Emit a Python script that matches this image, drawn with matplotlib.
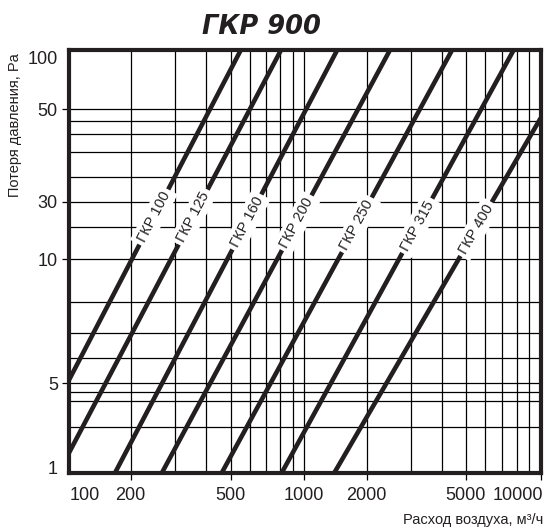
import numpy as np
import matplotlib
matplotlib.use('Agg')
import matplotlib.pyplot as plt
import matplotlib.transforms as mtransforms

################################################################
# data

flow_ticks = [100, 200, 500, 1000, 2000, 5000, 10000]
flow_grid = [200, 300, 400, 500, 600, 700, 800, 900, 1000,
             2000, 3000, 4000, 5000, 6000, 7000, 8000, 9000]
dp_ticks = [1, 5, 10, 30, 50, 100]
dp_grid = [2, 3, 4, 5, 6, 7, 8, 10, 20, 30, 34, 38, 42, 46, 50]

names = ['ГКР 100', 'ГКР 125', 'ГКР 160', 'ГКР 200', 'ГКР 250', 'ГКР 315', 'ГКР 400']
# air flow (m3/h) of every duct size at two pressure losses
dp_low = 5
dp_high = 50
flow_low = [76.6, 137, 267, 415, 730, 1348, 2404]
flow_high = [414, 600, 1025, 1820, 3275, 5776, 10500]
# pressure loss where the name is written on the line
label_dp = [23.5, 23.5, 21.7, 21.4, 20.7, 20.4, 19.1]

################################################################
# layout: the printed nomogram grid is not evenly spaced, so the axes use
# a piecewise log scale pinned to where the labelled values sit (pixels)

W, H = 558, 531
x_knot_px = [85, 130.7, 230.7, 304, 366.7, 465.7, 540.7]
y_knot_vals = [1, 2, 3, 4, 5, 6, 7, 8, 10, 20, 30, 34, 38, 42, 46, 50, 100]
y_knot_px = [468, 427, 401, 392, 383, 358, 333, 302, 259, 227, 202, 177, 152, 134, 121, 109, 58]
LEFT, RIGHT, TOP, BOTTOM = 69, 540.7, 50, 473

INK = '#231f20'


def piecewise(xk, yk):
  xk = np.asarray(xk, float)
  yk = np.asarray(yk, float)
  lo = (yk[1] - yk[0]) / (xk[1] - xk[0])
  hi = (yk[-1] - yk[-2]) / (xk[-1] - xk[-2])
  def f(x):
    x = np.asarray(x, float)
    y = np.interp(x, xk, yk)
    y = np.where(x < xk[0], yk[0] + (x - xk[0]) * lo, y)
    y = np.where(x > xk[-1], yk[-1] + (x - xk[-1]) * hi, y)
    return y
  return f


def safe_log(v):
  with np.errstate(divide='ignore', invalid='ignore'):
    return np.log10(np.maximum(np.asarray(v, float), 1e-12))


x_logs = np.log10(flow_ticks)
fx = piecewise(x_logs, x_knot_px)
fx_inv = piecewise(x_knot_px, x_logs)
y_logs = np.log10(y_knot_vals)
y_h = H - np.asarray(y_knot_px, float)
fy = piecewise(y_logs, y_h)
fy_inv = piecewise(y_h, y_logs)

fwd_x = lambda v: fx(safe_log(v))
inv_x = lambda p: 10 ** fx_inv(p)
fwd_y = lambda v: fy(safe_log(v))
inv_y = lambda p: 10 ** fy_inv(p)

plt.rcParams['font.family'] = ['Liberation Sans', 'DejaVu Sans']

fig = plt.figure(figsize=(W / 100, H / 100), dpi=100)
ax = fig.add_axes([LEFT / W, (H - BOTTOM) / H, (RIGHT - LEFT) / W, (BOTTOM - TOP) / H])
ax.set_xscale('function', functions=(fwd_x, inv_x))
ax.set_yscale('function', functions=(fwd_y, inv_y))
ax.set_xlim(float(inv_x(LEFT)), float(inv_x(RIGHT)))
ax.set_ylim(float(inv_y(H - BOTTOM)), float(inv_y(H - TOP)))

for q in flow_grid:
  ax.axvline(q, color='black', lw=0.9, zorder=1)
for p in dp_grid:
  ax.axhline(p, color='black', lw=0.9, zorder=1)

for i, name in enumerate(names):
  p1 = (flow_low[i], dp_low)
  p2 = (flow_high[i], dp_high)
  ax.axline(p1, p2, color=INK, lw=3.3, solid_capstyle='butt', zorder=2)
  # place the name on the line, turned along it
  (sx1, sy1), (sx2, sy2) = ax.transScale.transform([p1, p2])
  sy = float(fwd_y(label_dp[i]))
  sx = sx1 + (sy - sy1) * (sx2 - sx1) / (sy2 - sy1)
  q_lab = float(inv_x(sx))
  (dx1, dy1), (dx2, dy2) = ax.transData.transform([p1, p2])
  ang = np.degrees(np.arctan2(dy2 - dy1, dx2 - dx1))
  ax.text(q_lab, label_dp[i], name, rotation=ang, rotation_mode='anchor',
          ha='center', va='center', fontsize=10.5, color=INK, zorder=4,
          bbox=dict(boxstyle='square,pad=0.25', fc='white', ec='none'))

ax.set_xticks(flow_ticks, labels=[str(v) for v in flow_ticks])
ax.set_yticks(dp_ticks, labels=[str(v) for v in dp_ticks])
ax.minorticks_off()
ax.tick_params(axis='both', direction='out', length=5, width=0.9,
               color='black', labelsize=13, labelcolor=INK, pad=3)
ax.tick_params(axis='x', pad=5)
ax.xaxis.get_major_ticks()[0].tick1line.set_visible(False)
yt = ax.yaxis.get_major_ticks()
yt[0].tick1line.set_visible(False)
yt[-1].tick1line.set_visible(False)

# the last flow label sits left of its tick so it stays inside the picture
last = ax.get_xticklabels()[-1]
last.set_horizontalalignment('right')
last.set_transform(last.get_transform() +
                   mtransforms.ScaledTranslation(2 / 100, 0, fig.dpi_scale_trans))

for s in ax.spines.values():
  s.set_linewidth(3)
  s.set_color(INK)

fig.text(261 / W, 1 - 27 / H, 'ГКР 900', family='DejaVu Sans', weight='heavy',
         style='italic', fontsize=18.5, ha='center', va='center', color=INK)
fig.text(15 / W, 1 - 125 / H, 'Потеря давления, Pa', rotation=90,
         ha='center', va='center', fontsize=10.5, color=INK)
fig.text(543 / W, 1 - 520 / H, 'Расход воздуха, м³/ч', ha='right', va='center',
         fontsize=10.5, color=INK)

fig.savefig('out.png', dpi=100)
